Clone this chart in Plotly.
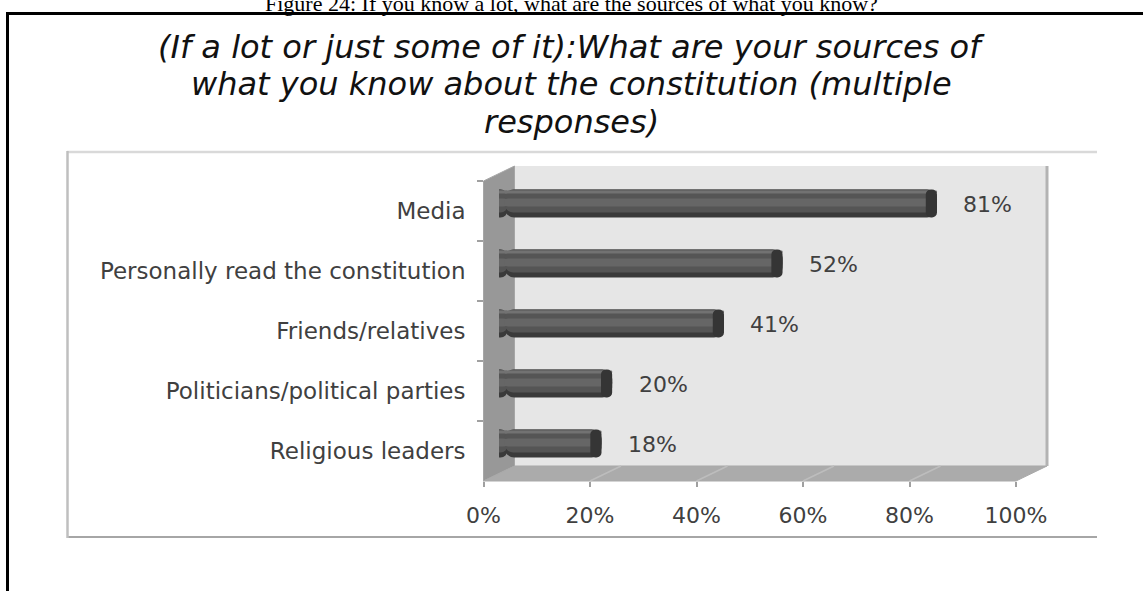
import plotly.graph_objects as go

W, H = 1143, 591

# ---- data ----
categories = [
    "Media",
    "Personally read the constitution",
    "Friends/relatives",
    "Politicians/political parties",
    "Religious leaders",
]
shares = [81, 52, 41, 20, 18]
value_labels = ["81%", "52%", "41%", "20%", "18%"]
tick_values = [0, 20, 40, 60, 80, 100]
tick_labels = ["0%", "20%", "40%", "60%", "80%", "100%"]
grid_values = [20, 40, 60, 80]

caption = "Figure 24: If you know a lot, what are the sources of what you know?"
title_lines = [
    "(If a lot or just some of it):What are your sources of",
    "what you know about the constitution (multiple",
    "responses)",
]

# ---- frame geometry (pixels) ----
FRONT_L, FRONT_R = 483.5, 1016   # front edge of the floor: 0% .. 100%
FRONT_T, FRONT_B = 181, 481      # front plane top / bottom
DX, DY = 31, 15                  # depth offset of the back wall
BAR_PX = 28                      # cylinder thickness
BAND_PX = (FRONT_B - FRONT_T) / len(categories)
CAP = 1.25                       # half width of a cylinder end, in axis units

LABEL_FONT = dict(family="DejaVu Sans", size=22, color="#404040")
CAT_FONT = dict(family="DejaVu Sans", size=23, color="#404040")


def px(x):
    return x / W


def py(y):
    return 1 - y / H


def front_x(v):
    return FRONT_L + (FRONT_R - FRONT_L) * v / 100


fig = go.Figure()

# invisible trace so the front category axis knows its categories
fig.add_trace(go.Scatter(x=shares, y=categories, xaxis="x2", yaxis="y2",
                         mode="markers", marker=dict(opacity=0),
                         hoverinfo="skip", showlegend=False))


def cylinder_layer(top, bottom, color, radius):
    """One horizontal shading stripe of the cylinders, rounded at both ends."""
    off = top / BAND_PX
    wid = (bottom - top) / BAND_PX
    # short piece rounded at the left end
    fig.add_trace(go.Bar(
        y=categories, x=[-(CAP + 1.6) for v in shares], base=[1.6 for v in shares],
        orientation="h", xaxis="x3", yaxis="y3",
        width=wid, offset=off,
        marker=dict(color=color, cornerradius=radius, line=dict(width=0)),
        hoverinfo="skip", showlegend=False))
    # long piece rounded at the right end
    fig.add_trace(go.Bar(
        y=categories, x=[v + CAP - 1.0 for v in shares], base=[1.0 for v in shares],
        orientation="h", xaxis="x3", yaxis="y3",
        width=wid, offset=off,
        marker=dict(color=color, cornerradius=radius, line=dict(width=0)),
        hoverinfo="skip", showlegend=False))


h = BAR_PX / 2
cylinder_layer(-h, h, "#3a3a3a", 10)
cylinder_layer(-h, h - 5, "#555555", 9)
cylinder_layer(-h + 1, -h + 4, "#727272", 2)
cylinder_layer(-5, 3, "#666666", 4)

# dark end face of each cylinder
fig.add_trace(go.Bar(
    y=categories, x=[2 * CAP - 0.4 for v in shares], base=[v - CAP + 0.4 for v in shares],
    orientation="h", xaxis="x3", yaxis="y3",
    width=BAR_PX / BAND_PX, offset=-h / BAND_PX,
    marker=dict(color="#353535", cornerradius=10, line=dict(width=0)),
    hoverinfo="skip", showlegend=False))

# ---- decorative 3-D frame ----
shapes = []
# back wall
shapes.append(dict(type="rect", xref="paper", yref="paper", layer="below",
                   x0=px(FRONT_L + DX), x1=px(FRONT_R + DX),
                   y0=py(FRONT_B - DY), y1=py(FRONT_T - DY),
                   fillcolor="#e6e6e6", line=dict(width=0)))
# side wall
shapes.append(dict(type="path", xref="paper", yref="paper", layer="below",
                   path=(f"M {px(FRONT_L)} {py(FRONT_T)} L {px(FRONT_L + DX)} {py(FRONT_T - DY)} "
                         f"L {px(FRONT_L + DX)} {py(FRONT_B - DY)} L {px(FRONT_L)} {py(FRONT_B)} Z"),
                   fillcolor="#989898", line=dict(color="#a6a6a6", width=1)))
# floor
shapes.append(dict(type="path", xref="paper", yref="paper", layer="below",
                   path=(f"M {px(FRONT_L)} {py(FRONT_B)} L {px(FRONT_L + DX)} {py(FRONT_B - DY)} "
                         f"L {px(FRONT_R + DX)} {py(FRONT_B - DY)} L {px(FRONT_R)} {py(FRONT_B)} Z"),
                   fillcolor="#ababab", line=dict(color="#a9a9a9", width=1)))
# floor grid lines
for v in grid_values:
    shapes.append(dict(type="line", xref="paper", yref="paper", layer="below",
                       x0=px(front_x(v)), y0=py(FRONT_B),
                       x1=px(front_x(v) + DX), y1=py(FRONT_B - DY),
                       line=dict(color="#bdbdbd", width=1.5)))
# right edge of the back wall
shapes.append(dict(type="line", xref="paper", yref="paper", layer="below",
                   x0=px(FRONT_R + DX), x1=px(FRONT_R + DX),
                   y0=py(FRONT_B - DY), y1=py(FRONT_T - DY),
                   line=dict(color="#b3b3b3", width=3)))

# inner chart border
shapes.append(dict(type="line", xref="paper", yref="paper", x0=px(67), x1=px(1097),
                   y0=py(152), y1=py(152), line=dict(color="#d9d9d9", width=2.5)))
shapes.append(dict(type="line", xref="paper", yref="paper", x0=px(67), x1=px(1097),
                   y0=py(537), y1=py(537), line=dict(color="#a6a6a6", width=2)))
shapes.append(dict(type="line", xref="paper", yref="paper", x0=px(67.5), x1=px(67.5),
                   y0=py(151), y1=py(538), line=dict(color="#bfbfbf", width=2.5)))
# outer page frame
shapes.append(dict(type="line", xref="paper", yref="paper", x0=px(6), x1=1,
                   y0=py(13.5), y1=py(13.5), line=dict(color="#000000", width=3)))
shapes.append(dict(type="line", xref="paper", yref="paper", x0=px(7.5), x1=px(7.5),
                   y0=py(12), y1=0, line=dict(color="#000000", width=3)))

# ---- annotations ----
annotations = []
for cat, v, lab in zip(categories, shares, value_labels):
    annotations.append(dict(xref="x3", yref="y3", x=v, y=cat, text=lab,
                            xanchor="left", yanchor="middle", xshift=31, yshift=-1,
                            showarrow=False, font=LABEL_FONT))
annotations.append(dict(xref="paper", yref="paper", x=px(571.5), y=py(4),
                        text=caption, showarrow=False, xanchor="center", yanchor="middle",
                        font=dict(family="Liberation Serif", size=22, color="#000000")))
for line, yc in zip(title_lines, [47, 84.5, 122]):
    annotations.append(dict(xref="paper", yref="paper", x=px(571.5), y=py(yc),
                            text=line, showarrow=False, xanchor="center", yanchor="middle",
                            font=dict(family="DejaVu Sans", size=32, color="#111111",
                                      style="italic")))

fig.update_layout(
    width=W, height=H, autosize=False,
    margin=dict(l=0, r=0, t=0, b=0, pad=0, autoexpand=False),
    paper_bgcolor="#ffffff", plot_bgcolor="rgba(0,0,0,0)",
    barmode="overlay", showlegend=False,
    shapes=shapes, annotations=annotations,
    # back wall gridlines
    xaxis=dict(domain=[px(FRONT_L + DX), px(FRONT_R + DX)], range=[0, 100],
               tickvals=grid_values, showticklabels=False, ticks="",
               showgrid=True, gridcolor="#bdbdbd", gridwidth=3,
               zeroline=False, showline=False, anchor="y", fixedrange=True,
               automargin=False),
    yaxis=dict(domain=[py(FRONT_B - DY), py(FRONT_T - DY)], range=[0, 1],
               visible=False, anchor="x", fixedrange=True, automargin=False),
    # front axes: ticks and labels
    xaxis2=dict(domain=[px(FRONT_L), px(FRONT_R)], range=[0, 100],
                tickvals=tick_values, ticktext=tick_labels,
                ticks="outside", ticklen=5, tickwidth=1.5, tickcolor="#a0a0a0",
                ticklabelstandoff=10, tickfont=LABEL_FONT,
                showgrid=False, zeroline=False, showline=False,
                anchor="y2", fixedrange=True, automargin=False),
    yaxis2=dict(domain=[py(FRONT_B), py(FRONT_T)], type="category",
                categoryorder="array", categoryarray=categories,
                range=[len(categories) - 0.5, -0.5],
                ticks="outside", tickson="boundaries", ticklen=6, tickwidth=1.5,
                tickcolor="#a0a0a0", ticklabelstandoff=17, tickfont=CAT_FONT,
                showgrid=False, zeroline=False, showline=False,
                anchor="x2", fixedrange=True, automargin=False),
    # mid-depth axes carrying the cylinders
    xaxis3=dict(domain=[px(FRONT_L + DX / 2), px(FRONT_R + DX / 2)], range=[0, 100],
                visible=False, anchor="y3", fixedrange=True, automargin=False),
    yaxis3=dict(domain=[py(FRONT_B - DY / 2), py(FRONT_T - DY / 2)], type="category",
                categoryorder="array", categoryarray=categories,
                range=[len(categories) - 0.5, -0.5],
                visible=False, anchor="x3", fixedrange=True, automargin=False),
)

fig.write_html("out.html")
